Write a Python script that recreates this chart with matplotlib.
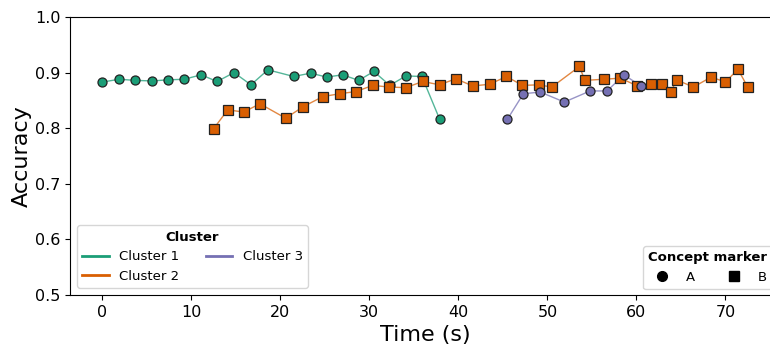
import matplotlib
matplotlib.use("Agg")
import matplotlib.pyplot as plt
from matplotlib.lines import Line2D

# Data
c1_t = [0, 1.9, 3.7, 5.6, 7.4, 9.2, 11.1, 12.9, 14.8, 16.7, 18.6, 21.5, 23.4, 25.2, 27.0, 28.8, 30.5, 32.3, 34.1, 35.9, 37.9]
c1_acc = [0.883, 0.888, 0.886, 0.885, 0.887, 0.888, 0.896, 0.884, 0.900, 0.878, 0.905, 0.893, 0.899, 0.892, 0.896, 0.886, 0.902, 0.877, 0.894, 0.893, 0.816]

c2_t = [12.5, 14.1, 15.9, 17.7, 20.6, 22.6, 24.8, 26.7, 28.5, 30.4, 32.2, 34.1, 36.0, 37.9, 39.7, 41.6, 43.5, 45.4, 47.2, 49.0, 50.5, 53.6, 54.2, 56.3, 58.2, 60.1, 61.6, 62.9, 63.9, 64.5, 66.4, 68.4, 70.0, 71.4, 72.5]
c2_acc = [0.799, 0.833, 0.829, 0.844, 0.818, 0.839, 0.857, 0.862, 0.866, 0.877, 0.874, 0.873, 0.884, 0.878, 0.889, 0.876, 0.879, 0.893, 0.877, 0.878, 0.874, 0.911, 0.886, 0.888, 0.890, 0.876, 0.879, 0.879, 0.866, 0.887, 0.874, 0.892, 0.883, 0.906, 0.874]

c3_t = [45.5, 47.3, 49.2, 51.9, 54.8, 56.7, 58.6, 60.5]
c3_acc = [0.816, 0.862, 0.865, 0.847, 0.867, 0.867, 0.896, 0.876]

clusters = ["Cluster 1", "Cluster 2", "Cluster 3"]
colors = ["#1b9e77", "#d95f02", "#7570b3"]
markers = ["o", "s", "o"]
series_t = [c1_t, c2_t, c3_t]
series_acc = [c1_acc, c2_acc, c3_acc]

fig = plt.figure(figsize=(7.7, 3.45), dpi=100)
ax = fig.add_axes([70 / 770, 50 / 345, 710 / 770, 278 / 345])

for t, a, col, m in zip(series_t, series_acc, colors, markers):
    ax.plot(t, a, color=col, lw=1.0, alpha=0.75, zorder=2)
    ax.plot(t, a, ls="none", marker=m, markersize=6.5, markerfacecolor=col,
            markeredgecolor="#222222", markeredgewidth=0.9, zorder=3)

ax.set_ylim(0.5, 1.0)
ax.set_xlabel("Time (s)", fontsize=16)
ax.set_ylabel("Accuracy", fontsize=16, labelpad=2)
ax.tick_params(labelsize=11.5)

cl_handles = [Line2D([0], [0], color=c, lw=2) for c in colors]
leg1 = ax.legend(cl_handles, clusters, title="Cluster", ncol=2, fontsize=9.5,
                 title_fontproperties={"weight": "bold", "size": 9.5},
                 loc="lower left", bbox_to_anchor=(77 / 770, 57 / 345),
                 bbox_transform=fig.transFigure, borderaxespad=0,
                 columnspacing=2.0)
ax.add_artist(leg1)

cm_handles = [Line2D([0], [0], ls="none", marker="o", color="black", markersize=7),
              Line2D([0], [0], ls="none", marker="s", color="black", markersize=7)]
leg2 = ax.legend(cm_handles, ["A", "B"], title="Concept marker", ncol=2, fontsize=9.5,
                 title_fontproperties={"weight": "bold", "size": 9.5},
                 loc="upper left", bbox_to_anchor=(643 / 770, (345 - 246) / 345),
                 bbox_transform=fig.transFigure, borderaxespad=0,
                 columnspacing=2.0)

fig.savefig("out.png", dpi=100)
